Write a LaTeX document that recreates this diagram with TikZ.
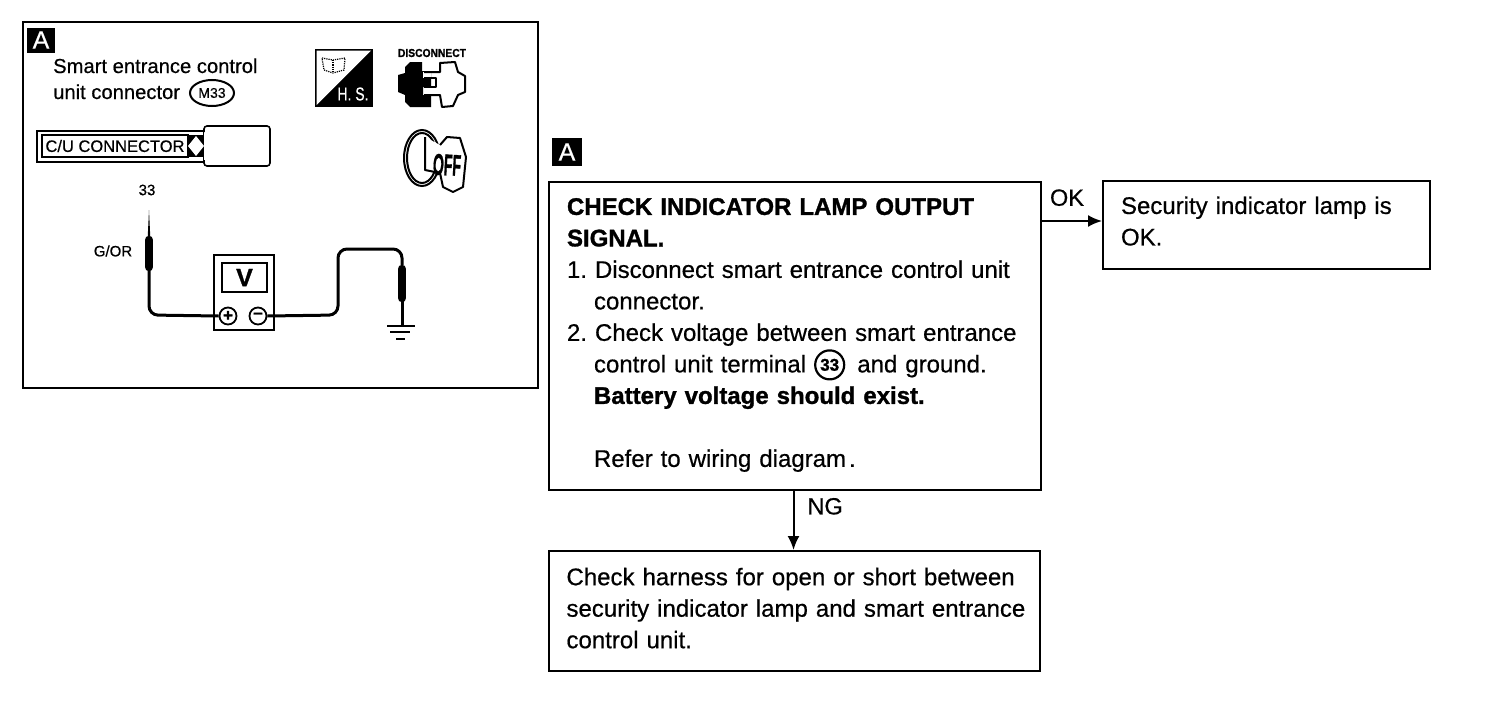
\documentclass[tikz,border=0pt]{standalone}
\usepackage{fontspec}
\setmainfont{Liberation Sans}[FakeBold=0.55, BoldFeatures={FakeBold=1.2}]
\usetikzlibrary{calc,shapes.geometric,arrows.meta}
\tikzset{
	flowbox/.style={draw, line width=2pt, rectangle, inner sep=0pt, align=left, font=\fontsize{24}{31.5}\selectfont},
	flowline/.style={line width=2pt, -{Latex[length=14pt,width=12pt]}},
	flowtag/.style={font=\fontsize{23.5}{23.5}\selectfont},
	badge/.style={fill=black, text=white, inner sep=0pt, font=\fontsize{25}{25}\selectfont},
	wire/.style={line width=3pt, rounded corners=9pt},
	probe/.style={line width=8.5pt, line cap=round},
	term/.style={draw, circle, fill=white, line width=1.8pt, minimum size=17pt, inner sep=0pt, font=\fontsize{17}{17}\selectfont\bfseries},
	small/.style={inner sep=0pt, font=\fontsize{15}{15}\selectfont},
	iconline/.style={line width=2pt, line join=round}
}
\newcommand{\termnum}{\tikz[baseline=-7.5pt]\node[draw, circle, line width=2.2pt, minimum size=29pt, inner sep=0pt, font=\fontsize{17}{17}\selectfont\bfseries] (numcirc) {33};}

\begin{document}
\begin{tikzpicture}[x=1pt, y=-1pt]
	%%%%% START %%%%%
	\useasboundingbox (0, 0) rectangle (1504, 704);
	\fill[white] (0, 0) rectangle (1504, 704);

	\draw[line width=2pt] (23, 22) rectangle (538, 388);
	\node[badge, minimum width=28pt, minimum height=25pt] (panelbadge) at (41, 40) {A};
	\node[inner sep=0pt, anchor=base west, font=\fontsize{20.2}{20.2}\selectfont] (paneltitlea) at (53, 73) {Smart entrance control};
	\node[inner sep=0pt, anchor=base west, font=\fontsize{20.2}{20.2}\selectfont] (paneltitleb) at (53, 99) {unit connector};
	\node[draw, ellipse, line width=2pt, minimum width=44pt, minimum height=26pt, inner sep=0pt, font=\fontsize{14}{14}\selectfont] (connid) at (212, 93) {M33};

	% connector strip
	\draw[line width=1.6pt] (37, 131) rectangle (204, 162);
	\draw[line width=1.6pt] (42, 135) rectangle (188, 157);
	\fill (188, 135) rectangle (204, 157);
	\fill[white] (196, 136) -- (204, 146) -- (196, 156) -- (188, 146) -- cycle;
	\node[inner sep=0pt, font=\fontsize{16.5}{16.5}\selectfont] (striplabel) at (115, 146) {C/U CONNECTOR};
	\draw[line width=1.6pt, fill=white, rounded corners=3pt] (204, 132) -- (204, 126) -- (270, 126) -- (270, 166) -- (204, 166) -- (204, 160);

	% hand tool icon
	\fill[black] (315, 49) -- (373, 49) -- (373, 107) -- (315, 107) -- cycle;
	\fill[white] (316.5, 50.5) -- (371, 50.5) -- (316.5, 105) -- cycle;
	\draw[line width=1.2pt, densely dotted] (322, 58) -- (333, 60) -- (345, 58) -- (344, 70) -- (333, 73) -- (324, 70) -- cycle;
	\draw[line width=1.2pt, densely dotted] (333, 60) -- (333, 73);
	\node[inner sep=0pt, text=white] (hslabel) at (353, 94) {\resizebox{31pt}{13pt}{H. S.}};

	% disconnect icon
	\node[inner sep=0pt] (disclabel) at (432, 53) {\resizebox{68pt}{8pt}{\bfseries DISCONNECT}};
	\fill (410, 62) -- (422, 62) -- (422, 71) -- (431, 71) -- (431, 78) -- (431, 87) -- (423, 87) -- (423, 95) -- (431, 95) -- (431, 107) -- (410, 107) -- (405, 102) -- (405, 95) -- (398, 92) -- (398, 75) -- (405, 73) -- (405, 67) -- cycle;
	\fill[white] (423, 72) rectangle (431, 78);
	\draw[iconline] (424, 72) -- (440, 72) -- (440, 63) -- (455, 62) -- (458, 72) -- (465, 76) -- (465, 92) -- (458, 95) -- (453, 106) -- (442, 107) -- (440, 95) -- (424, 95);
	\draw[iconline] (424, 78) -- (436, 78) -- (436, 87) -- (424, 87);

	% key icon
	\draw[line width=2pt] (422, 158) ellipse (18 and 28);
	\draw[line width=2pt] (422, 158) ellipse (15 and 25);
	\draw[iconline, fill=white] (425, 137) -- (425, 170) -- (440, 173) -- (443, 187) -- (453, 192) -- (463, 187) -- (466, 157) -- (460, 138) -- (447, 137) -- (440, 145);
	\node[inner sep=0pt, rotate=-3] (keylabel) at (447, 165) {\resizebox{28pt}{21pt}{\bfseries OFF}};

	% voltmeter
	\node[small] (pinlabel) at (147, 190) {33};
	\node[small] (colourlabel) at (113, 251) {G/OR};
	\node[draw, line width=1.8pt, minimum width=60pt, minimum height=75pt, inner sep=0pt] (meter) at (244, 292.5) {};
	\node[draw, line width=1.4pt, minimum width=45pt, minimum height=29pt, inner sep=0pt, font=\fontsize{25}{25}\selectfont\bfseries] (screen) at (244.5, 277.5) {V};
	\node[term] (plusterm) at (228, 316) {+};
	\node[term] (minusterm) at (258, 316) {\raisebox{1pt}{--}};
	\coordinate (tipa) at (149, 210);
	\coordinate (tipb) at (402, 265);
	\draw[wire] (149, 240) -- (149, 315) -- (plusterm.west);
	\draw[wire] (minusterm.east) -- (338, 315) -- (338, 249) -- (402, 249) -- (tipb);
	\fill (147.6, 240) -- (tipa) -- (150.4, 240) -- cycle;
	\draw[probe] (149, 240) -- (149, 267);
	\draw[probe] (402, 269) -- (402, 298);
	\draw[line width=3pt] (402, 298) -- (402, 325) coordinate (earth);
	\draw[line width=2pt] (387, 326) -- (415, 326);
	\draw[line width=2pt] (390, 332) -- (410, 332);
	\draw[line width=2pt] (396, 339) -- (405, 339);

	% flow chart
	\node[badge, minimum width=30pt, minimum height=28pt] (flowbadge) at (567, 152) {A};
	\node[flowbox, minimum width=492pt, minimum height=308pt, text width=456pt] (checkbox) at (795, 336) {%
		\textbf{CHECK INDICATOR LAMP OUTPUT}\\
		\textbf{SIGNAL.}\\
		\hspace*{0pt}1.\ Disconnect smart entrance control unit\\
		\hspace*{27pt}connector.\\
		\hspace*{0pt}2.\ Check voltage between smart entrance\\
		\hspace*{27pt}control unit terminal \termnum{} \,and ground.\\
		\hspace*{27pt}\textbf{Battery voltage should exist.}\\[31.5pt]
		\hspace*{27pt}Refer to wiring diagram\hspace{3pt}.\rule[-7pt]{0pt}{7pt}};
	\node[flowbox, minimum width=327pt, minimum height=88pt, text width=291pt] (okbox) at (1266.5, 225) {Security indicator lamp is\\OK.\rule[-8pt]{0pt}{8pt}};
	\node[flowbox, minimum width=491pt, minimum height=120pt, text width=456pt] (harnessbox) at (794.5, 611) {%
		Check harness for open or short between\\
		\mbox{security indicator lamp and smart entrance}\\
		control unit.\rule[-6pt]{0pt}{6pt}};
	\draw[flowline] ([yshift=4pt]okbox.west -| checkbox.east) -- node[above, inner sep=14pt, xshift=-5pt, flowtag] (oklabel) {OK} ([yshift=4pt]okbox.west);
	\draw[flowline] ([xshift=-1.5pt]checkbox.south) -- node[right, pos=0.26, inner sep=13pt, flowtag] (nglabel) {NG} ([xshift=-1.5pt]checkbox.south |- harnessbox.north);
	%%%%% END %%%%%
\end{tikzpicture}
\end{document}
